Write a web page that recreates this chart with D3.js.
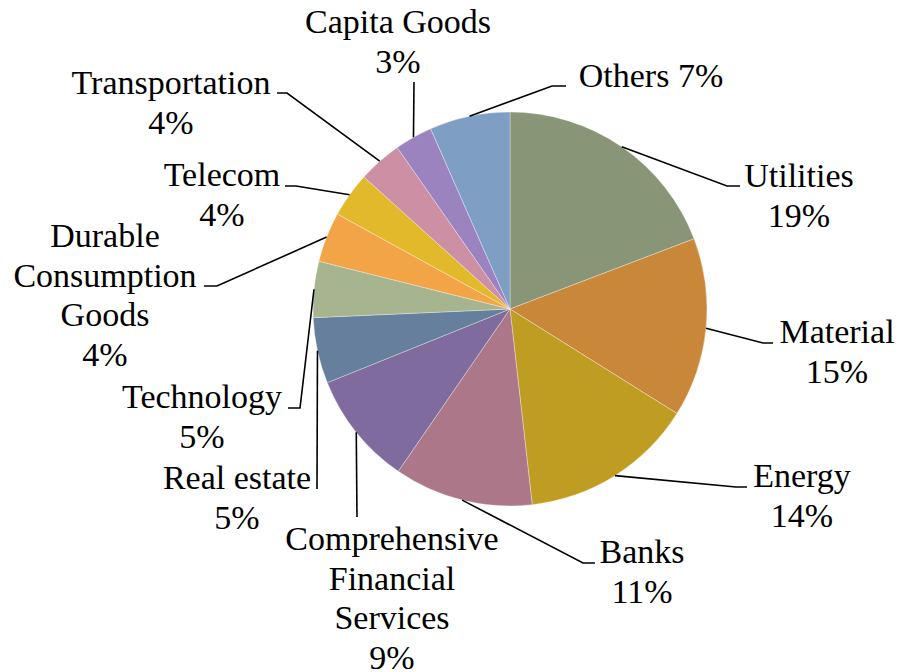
<!DOCTYPE html>
<html>
<head>
<meta charset="utf-8">
<script src="https://cdn.jsdelivr.net/npm/d3@7"></script>
<style>
  html, body { margin: 0; padding: 0; background: #fff; }
  svg { display: block; }
  text { font-family: "Liberation Serif", "Times New Roman", serif; fill: #000; }
</style>
</head>
<body>
<svg id="chart" width="899" height="672"></svg>
<script>
// Sector weights (share of portfolio, %)
const categories = [
  "Utilities", "Material", "Energy", "Banks",
  "Comprehensive Financial Services", "Real estate", "Technology",
  "Durable Consumption Goods", "Telecom", "Transportation",
  "Capita Goods", "Others"
];
const values = [19.2, 14.7, 14.3, 11.4, 9.3, 5.4, 4.6, 4.1, 3.7, 3.6, 3.1, 6.6];
const colors = [
  "#889577", "#C9873A", "#BF9C22", "#AC7789",
  "#7F6B9D", "#657F9C", "#A6B48F", "#F2A447",
  "#E3B92C", "#CD8FA3", "#9B83BF", "#7E9FC3"
];

// How each category name breaks across lines in its label
const nameLines = [
  ["Utilities"], ["Material"], ["Energy"], ["Banks"],
  ["Comprehensive", "Financial", "Services"], ["Real estate"], ["Technology"],
  ["Durable", "Consumption", "Goods"], ["Telecom"], ["Transportation"],
  ["Capita Goods"], ["Others"]
];
// Percentage placed on the same line as the name
const inlinePct = [false, false, false, false, false, false, false, false, false, false, false, true];

// Label layout: text centre x, first baseline y, leader elbow and end points
const labelLayout = [
  { x: 799, y: 187, bx: 727, by: 186, ex: 740, ey: 186 },
  { x: 837, y: 343, bx: 763, by: 343, ex: 773, ey: 343 },
  { x: 802, y: 487, bx: 736, by: 487, ex: 747, ey: 487 },
  { x: 642, y: 563, bx: 583, by: 563, ex: 595, ey: 563 },
  { x: 392, y: 550, bx: 357, by: 517, ex: 357, ey: 517 },
  { x: 237, y: 489, bx: 317, by: 489, ex: 317, ey: 489 },
  { x: 202, y: 408, bx: 300, by: 408, ex: 288, ey: 408 },
  { x: 105, y: 247, bx: 217, by: 286, ex: 204, ey: 286 },
  { x: 222, y: 186, bx: 296, by: 186, ex: 285, ey: 186 },
  { x: 171, y: 94,  bx: 287, by: 93,  ex: 277, ey: 93 },
  { x: 398, y: 33,  bx: 414, by: 82,  ex: 414, ey: 82 },
  { x: 651, y: 87,  bx: 552, by: 86,  ex: 566, ey: 86 }
];

const cx = 510, cy = 309, radius = 197;
const fontSize = 34, lineGap = 39.5;

const total = d3.sum(values);
const fmtPct = v => Math.round(v / total * 100) + "%";

const data = categories.map((name, i) => ({ name, value: values[i], i }));

const pie = d3.pie().value(d => d.value).sort(null).startAngle(0).endAngle(2 * Math.PI);
const arcs = pie(data);
const arc = d3.arc().innerRadius(0).outerRadius(radius);

const svg = d3.select("#chart");
const g = svg.append("g").attr("transform", `translate(${cx},${cy})`);

// Slices
g.selectAll("path.slice")
  .data(arcs)
  .join("path")
  .attr("class", "slice")
  .attr("d", arc)
  .attr("fill", d => colors[d.data.i])
  .attr("stroke", "rgba(255,255,255,0.55)")
  .attr("stroke-width", 0.6);

// Leader lines from each slice's outer mid-point to its label
const line = d3.line();
svg.selectAll("path.leader")
  .data(arcs)
  .join("path")
  .attr("class", "leader")
  .attr("fill", "none")
  .attr("stroke", "#000")
  .attr("stroke-width", 1.6)
  .attr("d", d => {
    const a = (d.startAngle + d.endAngle) / 2;
    const ax = cx + radius * Math.sin(a);
    const ay = cy - radius * Math.cos(a);
    const L = labelLayout[d.data.i];
    return line([[ax, ay], [L.bx, L.by], [L.ex, L.ey]]);
  });

// Labels
const labels = svg.selectAll("text.label")
  .data(arcs)
  .join("text")
  .attr("class", "label")
  .attr("text-anchor", "middle")
  .attr("font-size", fontSize)
  .attr("x", d => labelLayout[d.data.i].x)
  .attr("y", d => labelLayout[d.data.i].y);

labels.each(function (d) {
  const i = d.data.i;
  const L = labelLayout[i];
  const lines = nameLines[i].slice();
  if (inlinePct[i]) {
    lines[lines.length - 1] += " " + fmtPct(d.data.value);
  } else {
    lines.push(fmtPct(d.data.value));
  }
  d3.select(this).selectAll("tspan")
    .data(lines)
    .join("tspan")
    .attr("x", L.x)
    .attr("y", (t, k) => L.y + k * lineGap)
    .text(t => t);
});
</script>
</body>
</html>
